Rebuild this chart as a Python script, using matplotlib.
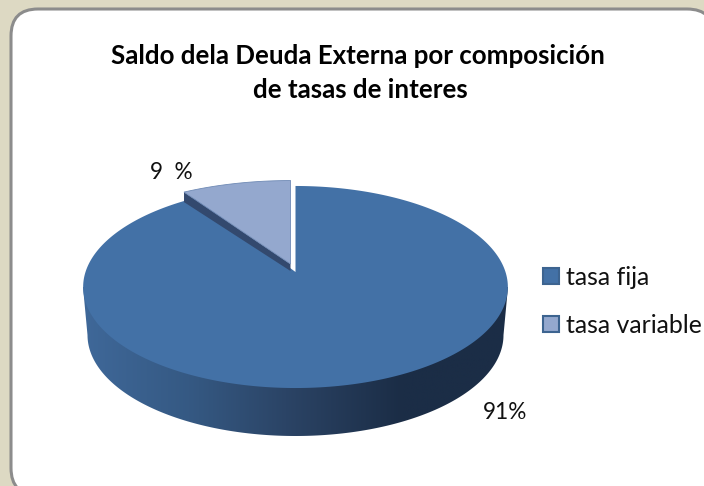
import matplotlib
matplotlib.use("Agg")
from matplotlib import pyplot as plt
from matplotlib.colors import LinearSegmentedColormap
from matplotlib.patches import FancyBboxPatch, Patch, Polygon
import numpy as np

categories = ["tasa fija", "tasa variable"]
values = [91, 9]
value_labels = ["91%", "9  %"]
title_lines = ["Saldo dela Deuda Externa por composición", "de tasas de interes"]

FIXED_BLUE = "#4371a6"
VAR_BLUE = "#94a8ce"

plt.rcParams['font.family'] = ['Lato', 'DejaVu Sans']

# pie geometry in pixels, the top face is a circle seen in perspective
CX, CY = 295.5, 272
SCALE_X, SCALE_Y, PERSP = 210, 98.8, 0.1485
EXPLODE = (-5, -8)


def rim(theta, dx=0, dy=0, sx=1, sy=1):
    # theta runs clockwise from 12 o'clock, in radians
    u, v = np.sin(theta), np.cos(theta)
    w = 1 + PERSP * v
    return CX + dx + sx * SCALE_X * u / w, CY + dy - sy * SCALE_Y * v / w


def wedge(start, stop, dx=0, dy=0, sx=1, sy=1):
    t = np.linspace(start, stop, 300)
    x, y = rim(t, dx, dy, sx, sy)
    return np.r_[CX + dx, x], np.r_[CY + dy, y]


fig = plt.figure(figsize=(7.04, 4.86), dpi=100, facecolor="#ddd9c3")
ax = fig.add_axes([0, 0, 1, 1])
ax.axis("off")

ax.add_patch(FancyBboxPatch((38, 36), 649, 432, boxstyle="round,pad=27,rounding_size=27",
                            fc="white", ec="#8c8c8c", lw=2.2, zorder=1))

# side wall with left to right shading
t = np.linspace(-np.pi / 2, np.pi / 2, 200)
low_x = 295.5 + 208 * np.sin(t)
low_y = 335 + 101 * np.cos(t)
side = Polygon(np.c_[np.r_[83, low_x, 508], np.r_[287, low_y, 287]], closed=True,
               transform=ax.transData, fc="none", ec="none")
ax.add_patch(side)
cmap = LinearSegmentedColormap.from_list("side", [(0, "#3f6899"), (0.25, "#355983"),
                                                  (0.5, "#2a4263"), (0.75, "#1b2d46"),
                                                  (1, "#1b2d46")])
img = ax.imshow(np.linspace(0, 1, 256)[None, :], extent=(83, 508, 440, 280), cmap=cmap,
                aspect="auto", zorder=2)
img.set_clip_path(side)

# slices, clockwise from the top
edges = 2 * np.pi * np.cumsum([0] + values) / sum(values)

x, y = wedge(edges[0], edges[1])
ax.fill(x, y, fc=FIXED_BLUE, ec="none", zorder=3)

# cut face of the pulled out slice
sx, sy = wedge(edges[1], edges[2], *EXPLODE, sx=1.065, sy=0.97)
tip = (sx[1], sy[1])
ax.add_patch(Polygon([tip, (sx[0], sy[0]), (sx[0], sy[0] + 7), (tip[0], tip[1] + 10)],
                     closed=True, fc="#33496e", ec="none", zorder=4))
ax.fill(sx, sy, fc=VAR_BLUE, ec="#6f8ab5", lw=0.6, zorder=5)
ax.plot([sx[0] + 1.5, sx[-1] + 1.5], [sy[0], sy[-1]], color="white", lw=1.5, zorder=4)

ax.text(505.5, 412, value_labels[0], ha="center", va="center", fontsize=16.3, color="#111111", zorder=6)
ax.text(171.5, 172, value_labels[1], ha="center", va="center", fontsize=16.3, color="#111111", zorder=6)

ax.text(358, 56, title_lines[0], ha="center", va="center", fontsize=18.6, fontweight="bold", zorder=6)
ax.text(360, 90, title_lines[1], ha="center", va="center", fontsize=18.6, fontweight="bold", zorder=6)

handles = [Patch(fc=FIXED_BLUE, ec="#3d6490", lw=1.5), Patch(fc=VAR_BLUE, ec="#3d6490", lw=1.5)]
ax.legend(handles, categories, loc="upper left", bbox_to_anchor=(543, 266), bbox_transform=ax.transData,
          frameon=False, fontsize=17.9, handlelength=0.64, handleheight=0.64, handletextpad=0.28,
          labelspacing=1.0, borderpad=0, borderaxespad=0, labelcolor="#111111")

ax.set_xlim(0, 704)
ax.set_ylim(486, 0)
fig.savefig("out.png", dpi=100, facecolor=fig.get_facecolor())
